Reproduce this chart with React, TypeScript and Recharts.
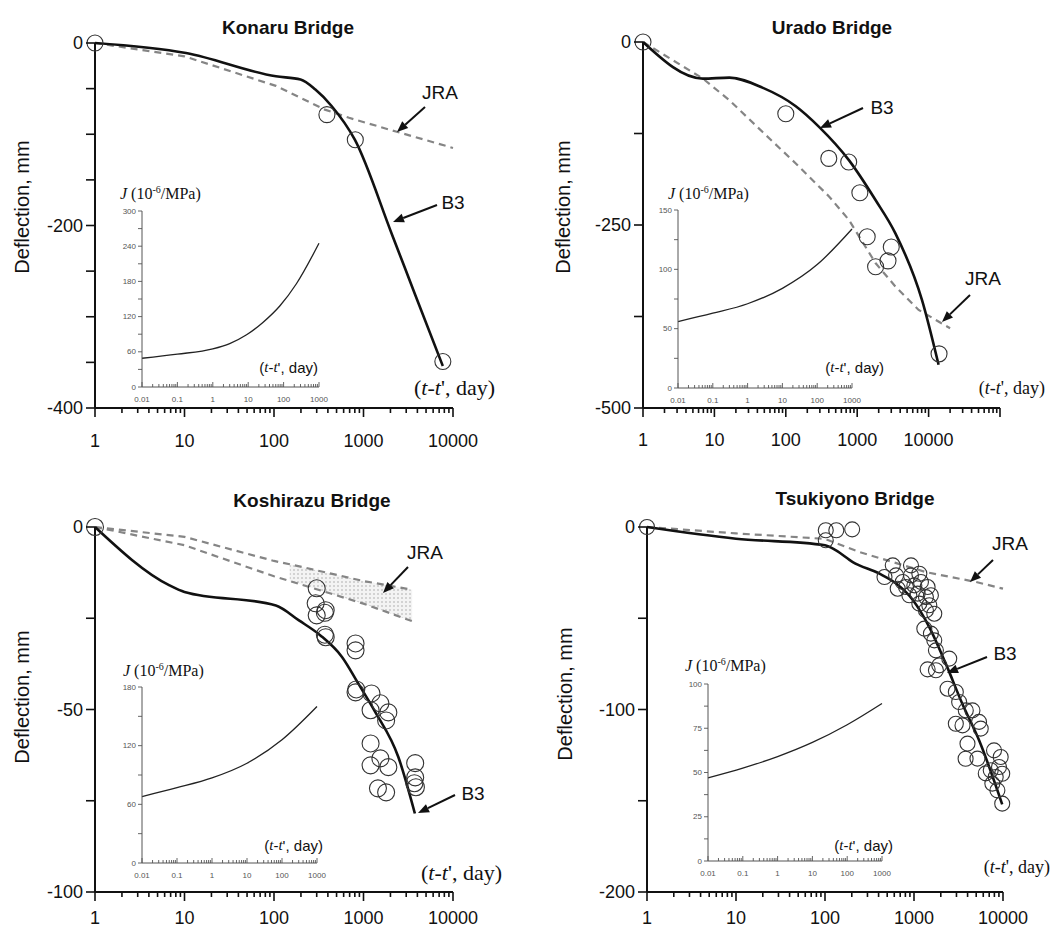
import React from "react";
import { Area, ComposedChart, Line, Scatter, XAxis, YAxis } from "recharts";

type Pair = [number, number];

// Konaru Bridge (t - t' in days, deflection in mm)
const konaruB3: Pair[] = [[1, 0], [10.4, -11], [105, -36.5], [198, -40], [290, -51], [440, -69], [800, -106], [2065, -209], [3750, -275], [7700, -354]];
const konaruJRA: Pair[] = [[1, 0], [10, -14.6], [105, -47], [370, -73], [690, -82], [2300, -97], [10000, -115]];
const konaruObs: Pair[] = [[1, 0], [390, -78.5], [810, -106], [7700, -349]];
const konaruJ: Pair[] = [[0.01, 49], [0.1, 56], [1, 65], [3, 74], [9, 89], [26, 110], [78, 138], [230, 176], [1000, 245]];

// Urado Bridge
const uradoB3: Pair[] = [[1, 0], [6.9, -50], [16.2, -48.6], [47, -62.3], [138, -87.7], [292, -115.9], [765, -161.4], [1805, -215.9], [3427, -261.4], [8070, -352.3], [13800, -441]];
const uradoJRA: Pair[] = [[1, 0], [6.9, -50], [16.2, -79.5], [47, -122.7], [138, -165.9], [403, -211], [765, -243], [1805, -302], [3427, -334], [7250, -366], [20000, -391]];
const uradoObs: Pair[] = [[1, 0], [100, -98], [400, -159], [760, -164], [1090, -206], [1380, -266], [1810, -307], [2700, -299], [3000, -280], [14000, -426]];
const uradoJ: Pair[] = [[0.01, 56], [0.1, 63], [1, 71], [10, 84], [100, 104], [1000, 134]];

// Koshirazu Bridge
const koshiB3: Pair[] = [[1, 0], [6.8, -16], [10, -17.8], [105, -21.5], [190, -25.6], [330, -29.7], [575, -35.6], [880, -43], [1340, -50.5], [2450, -63], [3750, -78.5]];
const koshiJRAUpper: Pair[] = [[1, 0], [10, -2.7], [100, -9.3], [150, -10.2], [1000, -14.8], [3500, -17.2]];
const koshiJRALower: Pair[] = [[1, 0], [10, -5], [100, -13.5], [150, -14.8], [1000, -21], [3500, -25.8]];
const koshiObs: Pair[] = [[1, 0], [300, -16.8], [292, -20.9], [378, -22.8], [370, -23.5], [300, -24.2], [378, -30.2], [370, -29.5], [815, -31.9], [815, -33.8], [815, -45.3], [830, -44.5], [1228, -45.6], [1200, -50.2], [1545, -48.3], [1895, -50.8], [1790, -53], [1200, -59.3], [1200, -65.3], [1545, -63.4], [1895, -65.8], [1450, -71.6], [1790, -72.7], [3780, -64.7], [3780, -68.6], [3700, -70.2], [3850, -71.3]];
const koshiJ: Pair[] = [[0.01, 68], [0.1, 77], [1, 87], [10, 102], [100, 126], [1000, 160]];

// Tsukiyono Bridge
const tsukiB3: Pair[] = [[1, 0], [10, -6.4], [100, -10], [133, -12.8], [205, -19.2], [410, -25.6], [630, -31], [970, -40], [1490, -55], [2280, -75], [3500, -97], [5400, -117], [9800, -152]];
const tsukiJRA: Pair[] = [[1, 0], [10, -3.5], [100, -6.5], [244, -13.7], [1360, -24.7], [4940, -30.1], [10000, -33.8]];
const tsukiObs: Pair[] = [
  [1, 0], [102, -1.8], [134, -1.8], [202, -1.3], [102, -7.3],
  [577, -21], [925, -21], [466, -27.4], [629, -26.5], [747, -30.1], [925, -26.5], [1148, -25.6],
  [656, -33.8], [813, -32.9], [1009, -32], [1197, -30.1], [1422, -32.9], [887, -37.4], [1099, -36.5],
  [1362, -38.4], [1549, -37.4], [1148, -42], [1485, -42.9], [1690, -47.5], [1362, -45.7], [1306, -55.7],
  [1549, -58.4], [1690, -62.1], [1763, -67.6], [2489, -72.1], [1922, -75.8], [1422, -78], [1763, -78.5],
  [2381, -88.6], [2951, -90.4], [3215, -95.9], [3819, -100.5], [4536, -100.5], [2951, -107.8], [3506, -108.7],
  [5383, -106.8], [5620, -110.5], [3990, -118.7], [3800, -127], [5164, -126.9], [7925, -122.4], [9420, -126],
  [7280, -133.3], [9020, -131.5], [8280, -137], [9800, -135.2], [6400, -135], [7590, -140.6], [8650, -144.3], [9800, -151.6],
];
const tsukiJ: Pair[] = [[0.01, 47], [0.1, 52.5], [1, 59], [10, 67], [100, 77], [1000, 89]];

const mainXLabels = [1, 10, 100, 1000, 10000];
const insetXLabels = [0.01, 0.1, 1, 10, 100, 1000];

const SANS = "'Liberation Sans', Arial, sans-serif";
const SERIF = "'Liberation Serif', 'Times New Roman', serif";

const toPts = (a: Pair[]) => a.map(([t, d]) => ({ t, d }));

const logTicks = (lo: number, hi: number) => {
  const out: number[] = [];
  for (let e = lo; e < hi; e++) for (let m = 1; m < 10; m++) out.push(+(m * Math.pow(10, e)).toPrecision(3));
  out.push(Math.pow(10, hi));
  return out;
};

const isPow10 = (v: number) => Math.abs(Math.log10(v) - Math.round(Math.log10(v))) < 1e-6;
const fmt = (v: number) => (v >= 1 ? String(Math.round(v)) : String(+v.toPrecision(1)));

function XTick(props: any) {
  const { x, y, payload, labels, majorLen, minorLen, dir, fontSize, color, labelDy, sw } = props;
  const v = payload.value as number;
  const len = isPow10(v) ? majorLen : minorLen;
  const show = labels.some((l: number) => Math.abs(l - v) / l < 1e-6);
  return (
    <g>
      <line x1={x} x2={x} y1={y} y2={y + dir * len} stroke={color} strokeWidth={sw} />
      {show && (
        <text x={x} y={y + labelDy} textAnchor="middle" dominantBaseline="central" fontSize={fontSize} fontFamily={SANS} fill={color}>
          {fmt(v)}
        </text>
      )}
    </g>
  );
}

function YTick(props: any) {
  const { x, y, payload, labels, len, gap, fontSize, color, sw } = props;
  const v = payload.value as number;
  const show = labels.includes(v);
  return (
    <g>
      <line x1={x} x2={x - len} y1={y} y2={y} stroke={color} strokeWidth={sw} />
      {show && (
        <text x={x - len - gap} y={y} textAnchor="end" dominantBaseline="central" fontSize={fontSize} fontFamily={SANS} fill={color}>
          {v}
        </text>
      )}
    </g>
  );
}

const Ring = (r: number) => (props: any) => (
  <circle cx={props.cx} cy={props.cy} r={r} fill="none" stroke="#333" strokeWidth={1.1} />
);

interface MainProps {
  left: number;
  top: number;
  w: number;
  h: number;
  xMaxExp: number;
  xLabelDy: number;
  yMin: number;
  yStep: number;
  yLabels: number[];
  b3: Pair[];
  jra: Pair[][];
  obs: Pair[];
  r: number;
  band?: { upper: Pair[]; lower: Pair[]; from: number };
  id: string;
}

function MainChart(p: MainProps) {
  const ML = 70, MT = 14, MR = 60, MB = 46;
  const xTicks = logTicks(0, p.xMaxExp);
  const yTicks: number[] = [];
  for (let v = p.yMin; v <= 0; v += p.yStep) yTicks.push(v);
  const bandData = p.band
    ? p.band.upper
        .map(([t, u], i) => ({ t, band: [p.band!.lower[i][1], u] }))
        .filter((d) => d.t >= p.band!.from)
    : [];
  return (
    <div style={{ position: "absolute", left: p.left - ML, top: p.top - MT }}>
      <ComposedChart width={p.w + ML + MR} height={p.h + MT + MB} margin={{ top: MT, right: MR, bottom: 0, left: 0 }}>
        <defs>
          <pattern id={`dots-${p.id}`} width="4" height="4" patternUnits="userSpaceOnUse">
            <rect width="4" height="4" fill="#f4f4f4" />
            <circle cx="1" cy="1" r="0.7" fill="#9a9a9a" />
          </pattern>
        </defs>
        <XAxis
          dataKey="t"
          type="number"
          scale="log"
          domain={[1, Math.pow(10, p.xMaxExp)]}
          ticks={xTicks}
          interval={0}
          height={MB}
          tickSize={0}
          tickMargin={0}
          axisLine={{ stroke: "#111", strokeWidth: 2 }}
          tickLine={false}
          tick={(t: any) => (
            <XTick {...t} labels={mainXLabels} majorLen={9} minorLen={5} dir={1} fontSize={18} color="#111" labelDy={p.xLabelDy} sw={1.6} />
          )}
        />
        <YAxis
          dataKey="d"
          type="number"
          domain={[p.yMin, 0]}
          ticks={yTicks}
          interval={0}
          width={ML}
          tickSize={0}
          tickMargin={0}
          axisLine={{ stroke: "#111", strokeWidth: 2 }}
          tickLine={false}
          tick={(t: any) => <YTick {...t} labels={p.yLabels} len={9} gap={3} fontSize={18} color="#111" sw={1.6} />}
        />
        {p.band && (
          <Area data={bandData} dataKey="band" type="linear" stroke="none" fill={`url(#dots-${p.id})`} fillOpacity={1} isAnimationActive={false} />
        )}
        {p.jra.map((s, i) => (
          <Line
            key={i}
            data={toPts(s)}
            dataKey="d"
            type="linear"
            stroke="#858585"
            strokeWidth={2.2}
            strokeDasharray="7 5"
            dot={false}
            isAnimationActive={false}
          />
        ))}
        <Line data={toPts(p.b3)} dataKey="d" type="monotone" stroke="#111" strokeWidth={2.6} dot={false} isAnimationActive={false} />
        <Scatter data={toPts(p.obs)} dataKey="d" shape={Ring(p.r)} isAnimationActive={false} />
      </ComposedChart>
    </div>
  );
}

interface InsetProps {
  left: number;
  top: number;
  w: number;
  h: number;
  yMax: number;
  yStep: number;
  yLabels: number[];
  curve: Pair[];
}

function InsetChart(p: InsetProps) {
  const ML = 34, MT = 8, MR = 14, MB = 22;
  const yTicks: number[] = [];
  for (let v = 0; v <= p.yMax + 1e-9; v += p.yStep) yTicks.push(v);
  return (
    <div style={{ position: "absolute", left: p.left - ML, top: p.top - MT }}>
      <ComposedChart width={p.w + ML + MR} height={p.h + MT + MB} margin={{ top: MT, right: MR, bottom: 0, left: 0 }}>
        <XAxis
          dataKey="t"
          type="number"
          scale="log"
          domain={[0.01, 1000]}
          ticks={logTicks(-2, 3)}
          interval={0}
          height={MB}
          tickSize={0}
          tickMargin={0}
          axisLine={{ stroke: "#555", strokeWidth: 1 }}
          tickLine={false}
          tick={(t: any) => (
            <XTick {...t} labels={insetXLabels} majorLen={5} minorLen={3} dir={-1} fontSize={8} color="#555" labelDy={12} sw={0.9} />
          )}
        />
        <YAxis
          dataKey="d"
          type="number"
          domain={[0, p.yMax]}
          ticks={yTicks}
          interval={0}
          width={ML}
          tickSize={0}
          tickMargin={0}
          axisLine={{ stroke: "#555", strokeWidth: 1 }}
          tickLine={false}
          tick={(t: any) => <YTick {...t} labels={p.yLabels} len={4} gap={2} fontSize={8} color="#555" sw={0.9} />}
        />
        <Line data={toPts(p.curve)} dataKey="d" type="monotone" stroke="#222" strokeWidth={1.3} dot={false} isAnimationActive={false} />
      </ComposedChart>
    </div>
  );
}

function Arrow({ x1, y1, x2, y2 }: { x1: number; y1: number; x2: number; y2: number }) {
  const a = Math.atan2(y2 - y1, x2 - x1);
  const L = 11, W = 4.5;
  const bx = x2 - L * Math.cos(a), by = y2 - L * Math.sin(a);
  const pts = `${x2},${y2} ${bx - W * Math.sin(a)},${by + W * Math.cos(a)} ${bx + W * Math.sin(a)},${by - W * Math.cos(a)}`;
  return (
    <g>
      <line x1={x1} y1={y1} x2={bx} y2={by} stroke="#111" strokeWidth={2} />
      <polygon points={pts} fill="#111" />
    </g>
  );
}

function TimeLabel({ x, y, size, sans }: { x: number; y: number; size: number; sans?: boolean }) {
  return (
    <text x={x} y={y} textAnchor="end" dominantBaseline="central" fontSize={size} fontFamily={sans ? SANS : SERIF} fill="#111">
      (<tspan fontStyle="italic" fontFamily={SERIF}>t</tspan>-<tspan fontStyle="italic" fontFamily={SERIF}>t</tspan>', day)
    </text>
  );
}

function JLabel({ x, y }: { x: number; y: number }) {
  return (
    <text x={x} y={y} fontSize={16} fontFamily={SERIF} fill="#111">
      <tspan fontStyle="italic">J</tspan>
      <tspan> (10</tspan>
      <tspan dy={-6} fontSize={10}>-6</tspan>
      <tspan dy={6}>/MPa)</tspan>
    </text>
  );
}

function Title({ x, y, text }: { x: number; y: number; text: string }) {
  return (
    <text x={x} y={y} textAnchor="middle" dominantBaseline="central" fontSize={19} fontWeight="bold" fontFamily={SANS} fill="#111">
      {text}
    </text>
  );
}

function YTitle({ x, y }: { x: number; y: number }) {
  return (
    <text x={x} y={y} transform={`rotate(-90 ${x} ${y})`} textAnchor="middle" dominantBaseline="central" fontSize={20} fontFamily={SANS} fill="#111">
      Deflection, mm
    </text>
  );
}

function Tag({ x, y, text }: { x: number; y: number; text: string }) {
  return (
    <text x={x} y={y} textAnchor="middle" dominantBaseline="central" fontSize={19} fontFamily={SANS} fill="#111">
      {text}
    </text>
  );
}

export default function App() {
  return (
    <div style={{ position: "absolute", left: 0, top: 0, width: 1063, height: 930, background: "#fff", overflow: "hidden" }}>
      <MainChart id="k" left={95} top={43} w={358} h={365} xMaxExp={4} xLabelDy={33} yMin={-400} yStep={50} yLabels={[0, -200, -400]} b3={konaruB3} jra={[konaruJRA]} obs={konaruObs} r={8} />
      <MainChart id="u" left={643} top={42} w={357} h={366} xMaxExp={5} xLabelDy={32} yMin={-500} yStep={125} yLabels={[0, -250, -500]} b3={uradoB3} jra={[uradoJRA]} obs={uradoObs} r={8} />
      <MainChart
        id="s"
        left={95}
        top={527}
        w={358}
        h={365}
        xMaxExp={4}
        xLabelDy={26}
        yMin={-100}
        yStep={25}
        yLabels={[0, -50, -100]}
        b3={koshiB3}
        jra={[koshiJRAUpper, koshiJRALower]}
        obs={koshiObs}
        r={8.5}
        band={{ upper: koshiJRAUpper, lower: koshiJRALower, from: 150 }}
      />
      <MainChart id="t" left={647} top={527} w={356} h={365} xMaxExp={4} xLabelDy={26} yMin={-200} yStep={50} yLabels={[0, -100, -200]} b3={tsukiB3} jra={[tsukiJRA]} obs={tsukiObs} r={7.5} />

      <InsetChart left={142} top={211} w={177} h={176} yMax={300} yStep={30} yLabels={[0, 60, 120, 180, 240, 300]} curve={konaruJ} />
      <InsetChart left={678} top={210} w={174} h={178} yMax={150} yStep={25} yLabels={[0, 50, 100, 150]} curve={uradoJ} />
      <InsetChart left={142} top={687} w={175} h={176} yMax={180} yStep={30} yLabels={[0, 60, 120, 180]} curve={koshiJ} />
      <InsetChart left={708} top={684} w={174} h={177} yMax={100} yStep={12.5} yLabels={[0, 25, 50, 75, 100]} curve={tsukiJ} />

      <svg width={1063} height={930} style={{ position: "absolute", left: 0, top: 0, pointerEvents: "none" }}>
        <Title x={288} y={27} text="Konaru Bridge" />
        <Title x={832} y={27} text="Urado Bridge" />
        <Title x={312} y={500} text="Koshirazu Bridge" />
        <Title x={855} y={498} text="Tsukiyono Bridge" />

        <YTitle x={22} y={207} />
        <YTitle x={563} y={207} />
        <YTitle x={22} y={697} />
        <YTitle x={565} y={694} />

        <TimeLabel x={495} y={387} size={22} />
        <TimeLabel x={1045} y={388} size={18} />
        <TimeLabel x={502} y={872} size={22} />
        <TimeLabel x={1050} y={867} size={18} />

        <JLabel x={120} y={199} />
        <JLabel x={668} y={199} />
        <JLabel x={123} y={676} />
        <JLabel x={685} y={671} />

        <TimeLabel x={318} y={367} size={15} sans />
        <TimeLabel x={884} y={367} size={15} sans />
        <TimeLabel x={323} y={845} size={15} sans />
        <TimeLabel x={893} y={845} size={15} sans />

        <Tag x={440} y={92} text="JRA" />
        <Arrow x1={425} y1={107} x2={397} y2={132} />
        <Tag x={453} y={202} text="B3" />
        <Arrow x1={437} y1={205} x2={393} y2={222} />

        <Tag x={882} y={107} text="B3" />
        <Arrow x1={863} y1={108} x2={820} y2={128} />
        <Tag x={983} y={278} text="JRA" />
        <Arrow x1={970} y1={295} x2={942} y2={322} />

        <Tag x={425} y={552} text="JRA" />
        <Arrow x1={408} y1={567} x2={383} y2={593} />
        <Tag x={473} y={793} text="B3" />
        <Arrow x1={455} y1={795} x2={418} y2={813} />

        <Tag x={1010} y={543} text="JRA" />
        <Arrow x1={993} y1={560} x2={970} y2={582} />
        <Tag x={1005} y={653} text="B3" />
        <Arrow x1={987} y1={657} x2={947} y2={673} />
      </svg>
    </div>
  );
}
